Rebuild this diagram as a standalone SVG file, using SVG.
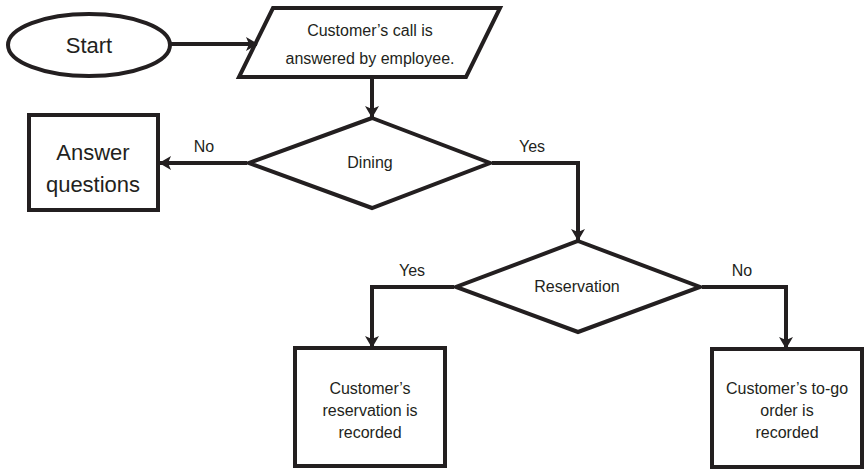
<svg xmlns="http://www.w3.org/2000/svg" width="867" height="476" viewBox="0 0 867 476">
<style>
.shape{fill:#fff;stroke:#231f20;stroke-width:4}
.line{fill:none;stroke:#231f20;stroke-width:4}
text{font-family:"Liberation Sans",Arial,sans-serif;fill:#231f20;text-anchor:middle}
.s{font-size:16px}
.l{font-size:22px}
</style>
<defs>
<marker id="ah" markerWidth="12" markerHeight="14" viewBox="0 0 12 14" refX="11" refY="7" orient="auto" markerUnits="userSpaceOnUse">
<path d="M0,0 L12,7 L0,14 L3,7 Z" fill="#231f20"/>
</marker>
</defs>
<g id="start">
<ellipse class="shape" cx="89" cy="45" rx="81" ry="31"/>
<text class="l" x="89" y="53">Start</text>
</g>
<g id="call">
<polygon class="shape" points="273,8 500,8 466,77 239,77"/>
<text class="s" x="370" y="36">Customer’s call is</text>
<text class="s" x="370" y="64">answered by employee.</text>
</g>
<g id="answer">
<rect class="shape" x="29" y="115" width="129" height="95"/>
<text class="l" x="93" y="160">Answer</text>
<text class="l" x="93" y="192">questions</text>
</g>
<g id="dining">
<polygon class="shape" points="372,118 490,163 372,208 249,163"/>
<text class="s" x="370" y="168">Dining</text>
</g>
<g id="reservation">
<polygon class="shape" points="578,241 700,287 578,332 456,287"/>
<text class="s" x="577" y="292">Reservation</text>
</g>
<g id="recorded">
<rect class="shape" x="295" y="348" width="150" height="118"/>
<text class="s" x="370" y="394">Customer’s</text>
<text class="s" x="370" y="416">reservation is</text>
<text class="s" x="370" y="438">recorded</text>
</g>
<g id="togo">
<rect class="shape" x="712" y="349" width="150" height="118"/>
<text class="s" x="787" y="394">Customer’s to-go</text>
<text class="s" x="787" y="416">order is</text>
<text class="s" x="787" y="438">recorded</text>
</g>
<g id="connectors">
<path class="line" d="M171,44 L257,44" marker-end="url(#ah)"/>
<path class="line" d="M372,79 L372,117" marker-end="url(#ah)"/>
<path class="line" d="M247,163 L160,163" marker-end="url(#ah)"/>
<path class="line" d="M492,163 L578,163 L578,240" marker-end="url(#ah)"/>
<path class="line" d="M454,287 L372,287 L372,347" marker-end="url(#ah)"/>
<path class="line" d="M702,287 L786,287 L786,348" marker-end="url(#ah)"/>
<text class="s" x="204" y="152">No</text>
<text class="s" x="532" y="152">Yes</text>
<text class="s" x="412" y="276">Yes</text>
<text class="s" x="742" y="276">No</text>
</g>
</svg>
